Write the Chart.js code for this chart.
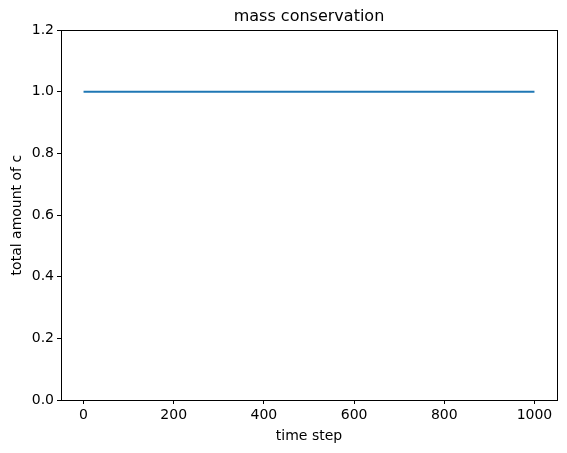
<!DOCTYPE html>
<html>
<head>
<meta charset="utf-8">
<script src="https://cdn.jsdelivr.net/npm/chart.js@4/dist/chart.umd.min.js"></script>
<style>
  html, body { margin: 0; padding: 0; background: #fff; }
  #wrap { width: 567px; height: 453px; }
</style>
</head>
<body>
<div id="wrap"><canvas id="massChart"></canvas></div>
<script>
// Data
const timeSteps = [0, 100, 200, 300, 400, 500, 600, 700, 800, 900, 1000];
const totalC = [1.0, 1.0, 1.0, 1.0, 1.0, 1.0, 1.0, 1.0, 1.0, 1.0, 1.0];
const xTicks = [0, 200, 400, 600, 800, 1000];
const yTicks = [0.0, 0.2, 0.4, 0.6, 0.8, 1.0, 1.2];

const font = "'DejaVu Sans', sans-serif";

// draw the full box around the plot area, like matplotlib
const frameBox = {
    id: 'frameBox',
    afterDraw(chart) {
        const { ctx, chartArea } = chart;
        ctx.save();
        ctx.strokeStyle = '#000';
        ctx.lineWidth = 1;
        ctx.strokeRect(Math.round(chartArea.left) + 0.5, Math.round(chartArea.top) + 0.5,
            Math.round(chartArea.right - chartArea.left), Math.round(chartArea.bottom - chartArea.top));
        ctx.restore();
    }
};

const ctx = document.getElementById('massChart').getContext('2d');
new Chart(ctx, {
    type: 'line',
    data: {
        labels: timeSteps,
        datasets: [{
            data: timeSteps.map((t, i) => ({ x: t, y: totalC[i] })),
            borderColor: '#1f77b4',
            borderWidth: 2,
            pointRadius: 0,
            fill: false,
            tension: 0
        }]
    },
    options: {
        responsive: true,
        maintainAspectRatio: false,
        animation: false,
        layout: { padding: { left: 0, right: 10, top: 0, bottom: 0 } },
        plugins: {
            legend: { display: false },
            tooltip: { enabled: false },
            title: {
                display: true,
                text: 'mass conservation',
                fullSize: false,
                color: '#000',
                font: { family: font, size: 16, weight: 'normal' },
                padding: { top: 7, bottom: 4 }
            }
        },
        scales: {
            x: {
                type: 'linear',
                min: -50,
                max: 1050,
                afterBuildTicks: axis => { axis.ticks = xTicks.map(v => ({ value: v })); },
                afterFit: axis => { axis.height = 53; },
                grid: { drawOnChartArea: false, drawTicks: true, tickLength: 4, color: '#000' },
                border: { display: true, color: '#000' },
                ticks: {
                    color: '#000',
                    font: { family: font, size: 14 },
                    padding: 3,
                    maxRotation: 0,
                    callback: v => String(v)
                },
                title: {
                    display: true,
                    text: 'time step',
                    color: '#000',
                    font: { family: font, size: 14 },
                    padding: { top: 0, bottom: 8 }
                }
            },
            y: {
                min: 0,
                max: 1.2,
                afterBuildTicks: axis => { axis.ticks = yTicks.map(v => ({ value: v })); },
                afterFit: axis => { axis.width = 61; },
                grid: { drawOnChartArea: false, drawTicks: true, tickLength: 4, color: '#000' },
                border: { display: true, color: '#000' },
                ticks: {
                    color: '#000',
                    font: { family: font, size: 14 },
                    padding: 3,
                    callback: v => v.toFixed(1)
                },
                title: {
                    display: true,
                    text: 'total amount of c',
                    color: '#000',
                    font: { family: font, size: 14 },
                    padding: { top: 9, bottom: 4 }
                }
            }
        }
    },
    plugins: [frameBox]
});
</script>
</body>
</html>
